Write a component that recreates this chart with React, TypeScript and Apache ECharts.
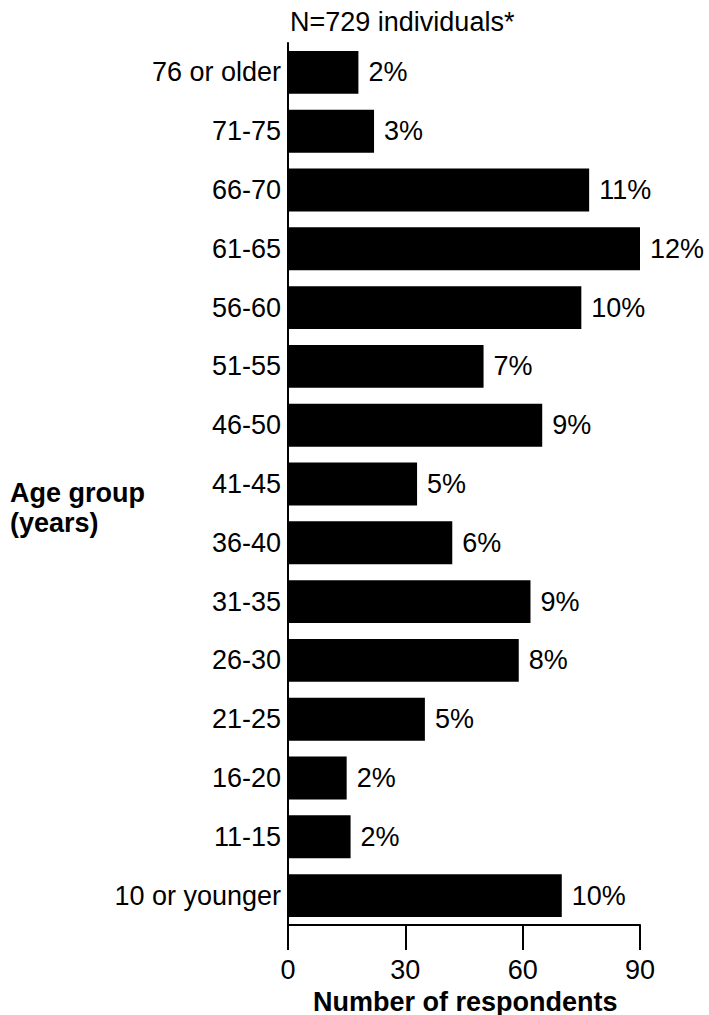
import React, { useEffect, useRef } from "react";
import * as echarts from "echarts";

const categories = [
  "76 or older", "71-75", "66-70", "61-65", "56-60", "51-55", "46-50", "41-45",
  "36-40", "31-35", "26-30", "21-25", "16-20", "11-15", "10 or younger",
];
const respondents = [18, 22, 77, 90, 75, 50, 65, 33, 42, 62, 59, 35, 15, 16, 70];
const percentLabels = ["2%", "3%", "11%", "12%", "10%", "7%", "9%", "5%", "6%", "9%", "8%", "5%", "2%", "2%", "10%"];
const xTicks = [0, 30, 60, 90];

const FONT = "'Liberation Sans', Arial, Helvetica, sans-serif";
const FS = 27;

export default function App() {
  const ref = useRef<HTMLDivElement>(null);
  useEffect(() => {
    if (!ref.current) return;
    const chart = echarts.init(ref.current, undefined, { renderer: "svg" });
    chart.setOption({
      animation: false,
      backgroundColor: "#ffffff",
      textStyle: { fontFamily: FONT },
      grid: { left: 288, right: 69, top: 43, bottom: 90, containLabel: false },
      xAxis: {
        type: "value",
        min: xTicks[0],
        max: xTicks[xTicks.length - 1],
        interval: 30,
        axisLine: { show: true, lineStyle: { color: "#000", width: 2 } },
        axisTick: { show: true, length: 25, lineStyle: { color: "#000", width: 2 } },
        axisLabel: { color: "#000", fontSize: FS, fontFamily: FONT, margin: 31 },
        splitLine: { show: false },
      },
      yAxis: {
        type: "category",
        data: categories,
        inverse: true,
        axisLine: { show: true, lineStyle: { color: "#000", width: 2 } },
        axisTick: { show: false },
        axisLabel: { color: "#000", fontSize: FS, fontFamily: FONT, margin: 7 },
      },
      series: [
        {
          type: "bar",
          data: respondents,
          barCategoryGap: "27%",
          itemStyle: { color: "#000" },
          label: {
            show: true,
            position: "right",
            distance: 10,
            color: "#000",
            fontSize: FS,
            fontFamily: FONT,
            formatter: (p: any) => percentLabels[p.dataIndex],
          },
        },
      ],
      graphic: [
        {
          type: "text",
          left: 290,
          top: 8,
          style: { text: "N=729 individuals*", fontSize: FS, fontFamily: FONT, fill: "#000" },
        },
        {
          type: "text",
          left: 10,
          top: 478,
          style: {
            text: "Age group\n(years)",
            fontSize: FS,
            fontWeight: "bold",
            lineHeight: 30,
            fontFamily: FONT,
            fill: "#000",
          },
        },
        {
          type: "text",
          left: 313,
          top: 988,
          style: {
            text: "Number of respondents",
            fontSize: FS,
            fontWeight: "bold",
            fontFamily: FONT,
            fill: "#000",
          },
        },
      ],
    });
    return () => chart.dispose();
  }, []);
  return (
    <div
      ref={ref}
      style={{ position: "fixed", left: 0, top: 0, width: 709, height: 1015, background: "#fff" }}
    />
  );
}
